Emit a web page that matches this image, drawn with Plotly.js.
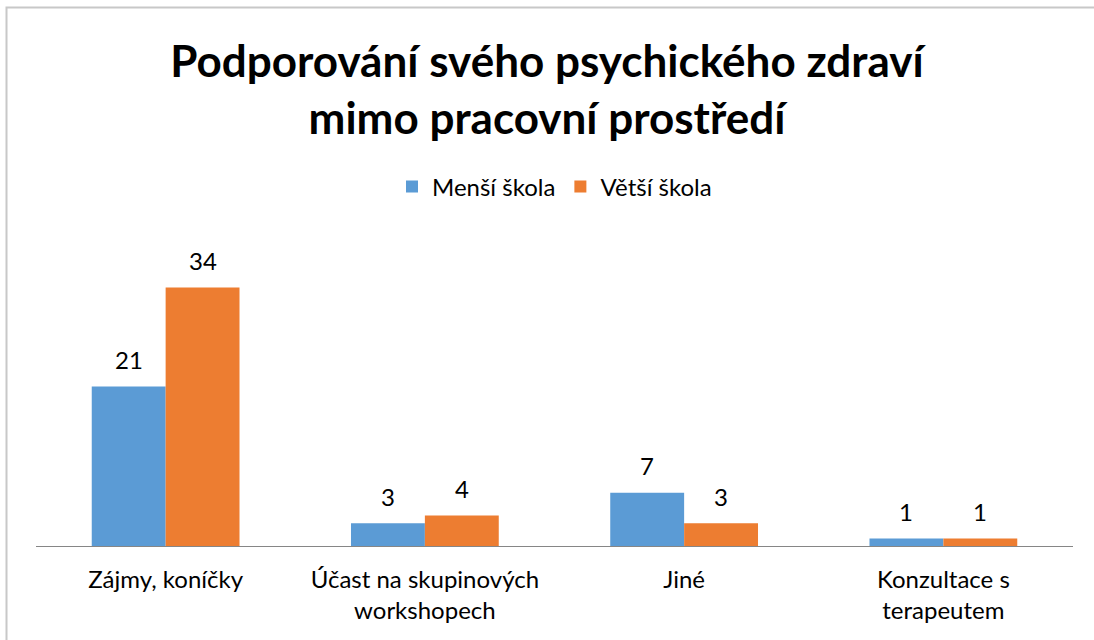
<!DOCTYPE html>
<html>
<head>
<meta charset="utf-8">
<script src="https://cdn.plot.ly/plotly-3.0.1.min.js"></script>
<style>
html,body{margin:0;padding:0;background:#fff;}
#chart{width:1094px;height:640px;}
</style>
</head>
<body>
<div id="chart"></div>
<script>
const categories = ["Zájmy, koníčky", "Účast na skupinových<br>workshopech", "Jiné", "Konzultace s<br>terapeutem"];
const seriesNames = ["Menší škola", "Větší škola"];
const smallSchool = [21, 3, 7, 1];
const largeSchool = [34, 4, 3, 1];
const colors = ["#5B9BD5", "#ED7D31"];

const font = "Lato, 'Open Sans', sans-serif";
const series = [smallSchool, largeSchool];

const traces = series.map((vals, i) => ({
  type: "bar",
  name: seriesNames[i],
  x: categories,
  y: vals,
  marker: {color: colors[i]},
  hoverinfo: "x+y+name"
}));

// data labels above bars, offset to each bar of the group
const barOffsetPx = 259.25 * (1 - 0.43) / 4;
const annotations = [];
series.forEach((vals, i) => {
  vals.forEach((v, j) => {
    annotations.push({
      x: categories[j], y: v, xref: "x", yref: "y",
      text: String(v), showarrow: false,
      xshift: (i === 0 ? -1 : 1) * barOffsetPx,
      yanchor: "middle", yshift: 27,
      font: {family: font, size: 24, color: "#000"}
    });
  });
});

const layout = {
  width: 1094,
  height: 640,
  paper_bgcolor: "#fff",
  plot_bgcolor: "#fff",
  margin: {l: 36, r: 21, t: 242, b: 94},
  barmode: "group",
  bargap: 0.43,
  bargroupgap: 0,
  title: {
    text: "<b>Podporování svého psychického zdraví<br>mimo pracovní prostředí</b>",
    font: {family: font, size: 44, color: "#000"},
    x: 0.5, xanchor: "center",
    y: 1 - 77/640, yanchor: "middle"
  },
  showlegend: true,
  legend: {
    orientation: "h",
    x: 0.5, xanchor: "center",
    y: (546-187)/304, yanchor: "middle",
    font: {family: font, size: 24, color: "#000"},
    traceorder: "normal"
  },
  xaxis: {
    showline: true, linecolor: "#868686", linewidth: 1,
    ticks: "", showgrid: false, zeroline: false,
    tickfont: {family: font, size: 24, color: "#000"},
    ticklabelstandoff: 12,
    fixedrange: true
  },
  yaxis: {
    visible: false, range: [0, 40], showgrid: false, zeroline: false, fixedrange: true
  },
  annotations: annotations,
  shapes: [{
    type: "rect", xref: "paper", yref: "paper",
    x0: (6.5-36)/1037, x1: 1.1, y0: -0.5, y1: (546-7.5)/304,
    line: {color: "#c8c8c8", width: 2}, fillcolor: "rgba(0,0,0,0)", layer: "below"
  }]
};

Plotly.newPlot("chart", traces, layout, {displayModeBar: false, staticPlot: true});
</script>
</body>
</html>
